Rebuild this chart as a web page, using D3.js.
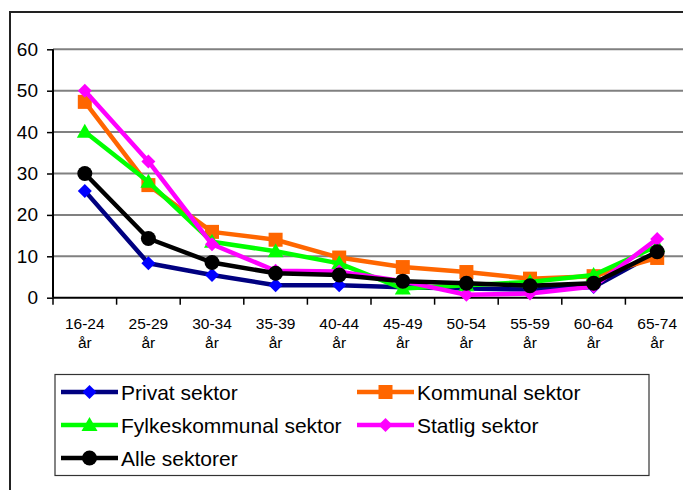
<!DOCTYPE html>
<html><head><meta charset="utf-8">
<script src="https://cdn.jsdelivr.net/npm/d3@7"></script>
<style>body{margin:0;background:#fff}svg{display:block;font-family:"Liberation Sans",Arial,sans-serif}</style>
</head><body><svg id="c" width="683" height="490"></svg>
<script>
const categories = ["16-24 år","25-29 år","30-34 år","35-39 år","40-44 år","45-49 år","50-54 år","55-59 år","60-64 år","65-74 år"];
const yTicks = [0,10,20,30,40,50,60];
const privat     = [25.8, 8.3, 5.5, 3.0, 3.0, 2.5, 2.2, 2.0, 2.6, 11.0];
const kommunal   = [47.3, 27.2, 15.9, 14.0, 9.7, 7.4, 6.2, 4.6, 5.2, 9.6];
const fylkes     = [40.1, 28.0, 13.5, 11.2, 8.3, 2.2, 3.0, 3.8, 5.5, 12.5];
const statlig    = [50.0, 32.9, 12.9, 6.5, 6.3, 4.0, 0.7, 1.0, 2.7, 14.2];
const alle       = [30.0, 14.3, 8.5, 5.9, 5.5, 4.0, 3.5, 2.9, 3.5, 11.1];
const seriesNames = ["Privat sektor","Kommunal sektor","Fylkeskommunal sektor","Statlig sektor","Alle sektorer"];

const series = [
  {name: seriesNames[0], values: privat,   line: "#000080", fill: "#0000FF", shape: "diamond"},
  {name: seriesNames[1], values: kommunal, line: "#FF6600", fill: "#FF6600", shape: "square"},
  {name: seriesNames[2], values: fylkes,   line: "#00FF00", fill: "#00FF00", shape: "triangle"},
  {name: seriesNames[3], values: statlig,  line: "#FF00FF", fill: "#FF00FF", shape: "diamond"},
  {name: seriesNames[4], values: alle,     line: "#000000", fill: "#000000", shape: "circle"}
];

const svg = d3.select("#c");
// outer frame
svg.append("path").attr("d","M10,490 V12 H683").attr("fill","none").attr("stroke","#222").attr("stroke-width",2);

const x = d3.scaleBand().domain(categories).range([53, 689]);
const y = d3.scaleLinear().domain([0,60]).range([297.7, 49.3]);

// gridlines
svg.append("g").selectAll("line").data(yTicks.filter(d=>d>0)).join("line")
  .attr("x1",53).attr("x2",683).attr("y1",d=>y(d)).attr("y2",d=>y(d))
  .attr("stroke","#808080").attr("stroke-width",2);

// y axis
const yAxis = svg.append("g").attr("transform","translate(53,0)")
  .call(d3.axisLeft(y).tickValues(yTicks).tickSize(6).tickPadding(9));
yAxis.select(".domain").attr("stroke","#000").attr("stroke-width",2).attr("d","M0,"+y(0)+"V"+y(60));
yAxis.selectAll(".tick line").attr("stroke","#000").attr("stroke-width",1.5);
yAxis.selectAll("text").attr("font-size",19).attr("fill","#000").attr("font-family","Liberation Sans, Arial, sans-serif");

// x axis
const xAxis = svg.append("g").attr("transform","translate(0,"+y(0)+")")
  .call(d3.axisBottom(x).tickSize(0).tickFormat(""));
xAxis.select(".domain").attr("stroke","#000").attr("stroke-width",2).attr("d","M53,0H683");
// category boundary ticks
svg.append("g").selectAll("line").data(categories).join("line")
  .attr("x1",d=>x(d)).attr("x2",d=>x(d)).attr("y1",y(0)).attr("y2",y(0)+7)
  .attr("stroke","#000").attr("stroke-width",1.5);
// labels
const xl = svg.append("g").selectAll("text").data(categories).join("text")
  .attr("x",d=>x(d)+x.bandwidth()/2).attr("text-anchor","middle")
  .attr("font-size",15.5).attr("fill","#000");
xl.append("tspan").attr("x",d=>x(d)+x.bandwidth()/2).attr("y",329).text(d=>d.split(" ")[0]);
xl.append("tspan").attr("x",d=>x(d)+x.bandwidth()/2).attr("y",348).text(d=>d.split(" ")[1]);

function marker(g, s, cx, cy, scale) {
  scale = scale || 1;
  if (s.shape === "diamond") {
    const r = 7*scale;
    g.append("path").attr("d",`M${cx},${cy-r}L${cx+r},${cy}L${cx},${cy+r}L${cx-r},${cy}Z`).attr("fill",s.fill);
  } else if (s.shape === "square") {
    const r = 7*scale;
    g.append("rect").attr("x",cx-r).attr("y",cy-r).attr("width",2*r).attr("height",2*r).attr("fill",s.fill);
  } else if (s.shape === "triangle") {
    const r = 8*scale;
    g.append("path").attr("d",`M${cx},${cy-r}L${cx+r},${cy+r*0.75}L${cx-r},${cy+r*0.75}Z`).attr("fill",s.fill);
  } else {
    g.append("circle").attr("cx",cx).attr("cy",cy).attr("r",7.5*scale).attr("fill",s.fill);
  }
}

const line = d3.line().x((d,i)=>x(categories[i])+x.bandwidth()/2).y(d=>y(d));
series.forEach(s=>{
  const g = svg.append("g");
  g.append("path").attr("d",line(s.values)).attr("fill","none").attr("stroke",s.line)
    .attr("stroke-width",4.5).attr("stroke-linejoin","round");
  s.values.forEach((v,i)=>marker(g, s, x(categories[i])+x.bandwidth()/2, y(v)));
});

// legend
const lg = svg.append("g");
lg.append("rect").attr("x",55).attr("y",374.5).attr("width",594).attr("height",101)
  .attr("fill","#fff").attr("stroke","#333").attr("stroke-width",1.2);
const pos = [[61,392],[357,392],[61,425],[357,425],[61,458]];
series.forEach((s,i)=>{
  const [lx,ly] = pos[i];
  lg.append("line").attr("x1",lx).attr("x2",lx+57).attr("y1",ly).attr("y2",ly)
    .attr("stroke",s.line).attr("stroke-width",4.5);
  marker(lg, s, lx+28.5, ly, 1);
  lg.append("text").attr("x",lx+60).attr("y",ly+7.5).attr("font-size",21).attr("fill","#000").text(s.name);
});
</script></body></html>
